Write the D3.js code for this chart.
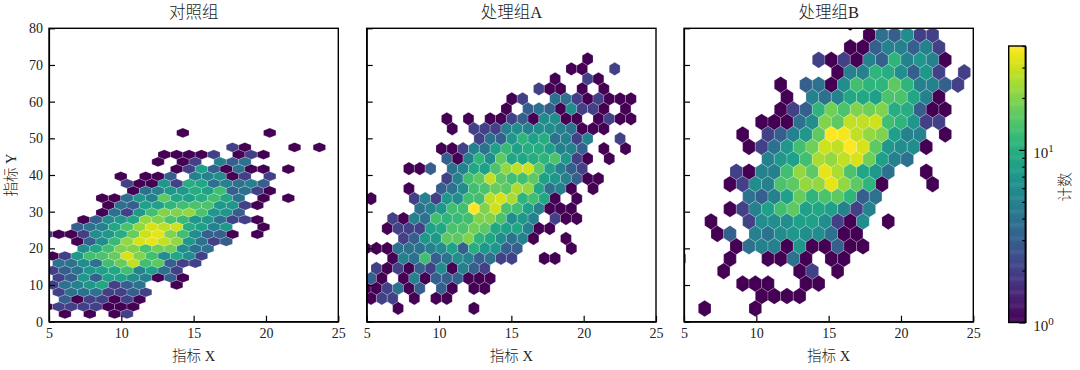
<!DOCTYPE html>
<html>
<head>
    <meta charset="utf-8" />
    <title>hexbin</title>
    <style>
        html, body { margin: 0; padding: 0; background: #fff; }
        svg { display: block; }
        text { font-family: "Liberation Serif", "Noto Sans CJK SC", serif; fill: #222; }
        .axis text { font-size: 14px; }
        .title { font-size: 16.5px; font-weight: 300; }
        .label { font-size: 14.5px; font-weight: 300; }
        .axis path, .axis line { stroke: #000; stroke-width: 1.2; }
    </style>
</head>
<body>
    <script src="https://cdn.jsdelivr.net/npm/d3@7"></script>
    <script>
        // 每行: [行号, 起始列, 计数]  0 = 空
        const controlRows = [
            [25, 11, [1,0,0,0,0,0,0,1]],
            [23, 15, [2,1,0,0,0,1,0,1]],
            [22, 9, [1,1,1,1,2,0,1,2,1]],
            [21, 9, [1,0,1,2,0,5,3,4]],
            [20, 10, [1,2,8,3,1,4,1,1,0,1]],
            [19, 6, [1,0,1,1,3,0,5,5,6,1,2,0,2]],
            [18, 6, [2,1,1,7,2,10,9,4,5,4,5,3]],
            [17, 7, [1,4,5,7,7,10,8,13,3,4,2,1]],
            [16, 4, [1,1,4,7,5,16,9,8,10,13,9,4,0,1,0,1]],
            [15, 5, [1,4,3,8,8,11,13,14,14,7,7,2,1]],
            [14, 4, [1,4,2,7,13,20,20,22,14,7,7,3]],
            [13, 3, [1,3,6,7,9,22,20,14,12,7,7,4,2,2,1]],
            [12, 2, [3,4,5,9,14,22,32,28,30,10,8,5,7,0,0,1]],
            [11, 0, [2,1,1,2,6,7,10,17,30,35,20,13,6,3,3,1,0,1]],
            [10, 2, [1,3,6,12,22,32,35,28,22,7,4,2,3]],
            [9, 3, [6,9,13,20,20,14,18,18,6,4,4]],
            [8, 0, [1,2,7,13,14,17,32,20,13,6,9,6,2]],
            [7, 1, [4,4,6,4,13,17,28,13,16,3,2,2]],
            [6, 0, [2,3,4,7,8,9,13,5,8,4,2]],
            [5, 1, [2,3,7,3,8,8,6,5,1,3,1]],
            [4, 0, [2,4,5,7,9,2,3,4,0,0,1]],
            [3, 1, [2,4,4,4,2,2,3,2]],
            [2, 1, [3,1,2,2,1,2,1]],
            [1, 0, [1,2,2,2,2,1,1,1]],
            [0, 1, [1,0,1,0,1,2]]
        ]

        const groupARows = [
            [25, 21, [1]],
            [24, 19, [1,1,0,0,2]],
            [23, 18, [1,0,0,2,1]],
            [22, 16, [2,1,1,0,1,0,1]],
            [21, 14, [1,2,0,0,4,4,2,1,2,1,1,1]],
            [20, 13, [1,0,3,4,3,1,6,2,2,1,0,1]],
            [19, 8, [1,0,1,0,1,1,2,3,1,6,6,1,1,0,1,2,1,1]],
            [18, 8, [1,0,2,2,2,5,6,5,6,6,5,4,1,1,1]],
            [17, 11, [2,4,3,7,11,8,10,4,5,2,5,0,0,2]],
            [16, 7, [1,1,2,5,4,8,12,8,10,10,8,5,5,3,0,1,0,1]],
            [15, 8, [3,1,5,11,6,16,9,9,10,11,14,7,2,1,0,1]],
            [14, 4, [1,1,3,0,4,5,9,8,14,22,28,30,16,8,5,3,2]],
            [13, 8, [2,5,13,16,28,16,13,13,16,8,7,5,3,1,1]],
            [12, 4, [1,0,0,3,4,6,13,14,17,16,25,22,9,4,5,1,0,1]],
            [11, 1, [1,0,0,0,2,5,2,7,6,13,13,28,32,25,11,13,9,1,0,1]],
            [10, 5, [4,5,7,13,13,40,20,30,14,13,8,5,1,1,1]],
            [9, 3, [2,1,5,4,13,11,12,13,20,20,14,6,7,5,0,2,1,1]],
            [8, 2, [1,2,2,2,8,9,14,14,18,16,9,8,9,5,1,1]],
            [7, 4, [2,3,7,7,16,16,20,11,9,6,4,5,1,0,0,1]],
            [6, 0, [1,1,1,4,4,4,5,6,8,3,10,7,7,3,3,0,0,0,0,1]],
            [5, 3, [1,5,4,13,3,4,6,5,3,4,2,2,0,0,1,1]],
            [4, 1, [2,1,2,1,3,2,6,1,5,3,2]],
            [3, 1, [3,1,0,1,5,1,3,3,3,1,1,1]],
            [2, 0, [1,1,2,4,1,3,0,3,1,0,1,1]],
            [1, 1, [1,2,2,0,1,0,1,1]],
            [0, 3, [1,0,0,0,0,0,0,1]]
        ]

        const groupBRows = [
            [23, 13, [1]],
            [22, 14, [1,4,3,6,2,2]],
            [21, 13, [1,1,3,5,5,3,5,2]],
            [20, 10, [2,1,2,1,5,3,11,5,7,5,1]],
            [19, 12, [1,5,5,11,10,6,3,7,2,0,2]],
            [18, 7, [1,0,3,4,1,6,13,11,11,16,11,5,5,3,2]],
            [17, 8, [1,0,5,4,5,9,9,8,14,14,9,5,1]],
            [16, 7, [1,2,3,11,18,14,20,18,20,10,10,3,1,1]],
            [15, 6, [1,1,1,4,6,20,16,28,28,30,13,11,7,2,2]],
            [14, 4, [1,0,2,3,5,7,16,40,38,28,22,20,8,5,5,0,1]],
            [13, 5, [1,2,4,7,13,18,30,28,40,32,16,7,6,6,1]],
            [12, 6, [5,7,8,13,25,22,28,32,18,8,5,4]],
            [11, 4, [2,1,5,5,13,22,16,35,25,14,9,7,4,0,0,1]],
            [10, 3, [1,2,6,5,14,16,22,22,35,22,16,11,1,0,0,0,1]],
            [9, 5, [4,3,5,8,17,11,14,16,11,3,4]],
            [8, 3, [1,2,5,8,13,16,8,9,8,5,2,5]],
            [7, 2, [1,0,0,2,6,6,6,8,8,6,2,1,6,0,1]],
            [6, 2, [1,3,0,5,4,6,7,6,6,4,1,1]],
            [5, 4, [1,4,5,5,1,7,1,1,3,1,1]],
            [4, -1, [1,0,0,0,1,0,0,1,1,4,1,0,1,1]],
            [3, 3, [1,0,0,0,0,0,1,2,0,1]],
            [2, 4, [1,1,1,0,0,1,1]],
            [1, 6, [1,1,1,1]],
            [0, 1, [1,0,0,0,1]]
        ]

        const panelTitles = ['对照组', '处理组A', '处理组B']
        const panelRows = [controlRows, groupARows, groupBRows]
        const xTicks = [5, 10, 15, 20, 25]
        const yTicks = [0, 10, 20, 30, 40, 50, 60, 70, 80]
        const xLabel = '指标 X'
        const yLabel = '指标 Y'
        const colorLabel = '计数'
        const colorMinor = [2, 3, 4, 5, 6, 7, 8, 9, 20, 30, 40]
        const colorMajor = [1, 10]

        // hexbin 网格 (数据坐标)
        const lattices = [
            { x0: 4.815, dx: 0.858, y0: 2.1, dy: 1.976 },
            { x0: 4.549, dx: 0.7487, y0: 3.65, dy: 2.72 },
            { x0: 5.115, dx: 0.8754, y0: 3.6, dy: 3.39 }
        ]

        const panelLefts = [49, 366.7, 684]
        const panelWidth = 289.3
        const plotTop = 28.3, plotBottom = 321.7

        const svg = d3.select('body')
                        .append('svg')
                        .attr('width', 1080)
                        .attr('height', 370)

        const color = d3.scaleSequentialLog(d3.interpolateViridis).domain([1, 40])

        panelRows.forEach(function (rows, p) {
            const lat = lattices[p]
            const left = panelLefts[p]
            const xScale = d3.scaleLinear().domain([5, 25]).range([left, left + panelWidth])
            const yScale = d3.scaleLinear().domain([0, 80]).range([plotBottom, plotTop])

            const cells = []
            rows.forEach(function (r) {
                r[2].forEach(function (c, k) {
                    if (!c) return
                    const col = r[1] + k + (r[0] % 2 === 0 ? 0.5 : 0)
                    cells.push({ x: lat.x0 + col * lat.dx, y: lat.y0 + r[0] * lat.dy, c: c })
                })
            })

            const hex = function (d) {
                const hw = lat.dx / 2, s = lat.dy / 3
                const pts = [[hw, -s], [hw, s], [0, 2 * s], [-hw, s], [-hw, -s], [0, -2 * s]]
                return d3.line()(pts.map(q => [xScale(d.x + q[0]), yScale(d.y + q[1])])) + 'Z'
            }

            svg.append('clipPath').attr('id', 'clip' + p)
                .append('rect')
                .attr('x', left).attr('y', plotTop)
                .attr('width', panelWidth).attr('height', plotBottom - plotTop)

            svg.append('g')
                .attr('clip-path', `url(#clip${p})`)
                .selectAll('path')
                .data(cells)
                .join('path')
                .attr('d', hex)
                .attr('fill', d => color(d.c))
                .attr('stroke', '#fff')
                .attr('stroke-width', 0.2)

            svg.append('g')
                .attr('class', 'axis')
                .attr('transform', `translate(0, ${plotBottom})`)
                .call(d3.axisBottom(xScale).tickValues(xTicks).tickSizeInner(-6).tickSizeOuter(0).tickPadding(6))

            svg.append('g')
                .attr('class', 'axis')
                .attr('transform', `translate(${left}, 0)`)
                .call(d3.axisLeft(yScale).tickValues(yTicks).tickSizeInner(-6).tickSizeOuter(0).tickPadding(6)
                    .tickFormat(p === 0 ? d3.format('d') : ''))

            svg.append('rect')
                .attr('x', left).attr('y', plotTop)
                .attr('width', panelWidth).attr('height', plotBottom - plotTop)
                .attr('fill', 'none').attr('stroke', '#000').attr('stroke-width', 1.4)

            svg.append('text')
                .attr('class', 'title')
                .attr('x', left + panelWidth / 2).attr('y', 18)
                .attr('text-anchor', 'middle')
                .text(panelTitles[p])

            svg.append('text')
                .attr('class', 'label')
                .attr('x', left + panelWidth / 2).attr('y', 361)
                .attr('text-anchor', 'middle')
                .text(xLabel)
        })

        svg.append('text')
            .attr('class', 'label')
            .attr('transform', `translate(16, ${(plotTop + plotBottom) / 2}) rotate(-90)`)
            .attr('text-anchor', 'middle')
            .text(yLabel)

        // colorbar
        const barLeft = 1008.7, barWidth = 16.6, barTop = 46, barBottom = 322.5
        const barScale = d3.scaleLog().domain([1, 40]).range([barBottom, barTop])
        const steps = d3.range(0, 256).map(i => i / 256)
        const barStep = d3.scaleLinear().domain([0, 1]).range([barBottom, barTop])

        svg.append('g')
            .selectAll('rect')
            .data(steps)
            .join('rect')
            .attr('x', barLeft)
            .attr('width', barWidth)
            .attr('y', d => barStep(d + 1 / 256))
            .attr('height', (barBottom - barTop) / 256 + 0.5)
            .attr('fill', d => d3.interpolateViridis(d))

        svg.append('g')
            .attr('class', 'axis')
            .attr('transform', `translate(${barLeft + barWidth}, 0)`)
            .call(d3.axisRight(barScale).tickValues(colorMinor).tickSizeInner(-3).tickSizeOuter(0).tickFormat(''))

        const majorAxis = svg.append('g')
            .attr('class', 'axis')
            .attr('transform', `translate(${barLeft + barWidth}, 0)`)
            .call(d3.axisRight(barScale).tickValues(colorMajor).tickSizeInner(-6).tickSizeOuter(0).tickPadding(8).tickFormat(''))

        majorAxis.selectAll('.tick text').each(function (d) {
            const t = d3.select(this).attr('dy', '0.5em').style('font-size', '15px')
            t.append('tspan').text('10')
            t.append('tspan').attr('dy', -6).style('font-size', '11px').text(Math.log10(d))
        })

        svg.append('rect')
            .attr('x', barLeft).attr('y', barTop)
            .attr('width', barWidth).attr('height', barBottom - barTop)
            .attr('fill', 'none').attr('stroke', '#000').attr('stroke-width', 1.4)

        svg.append('text')
            .attr('class', 'label')
            .attr('transform', `translate(1070, 187) rotate(-90)`)
            .attr('text-anchor', 'middle')
            .text(colorLabel)
    </script>
</body>
</html>
